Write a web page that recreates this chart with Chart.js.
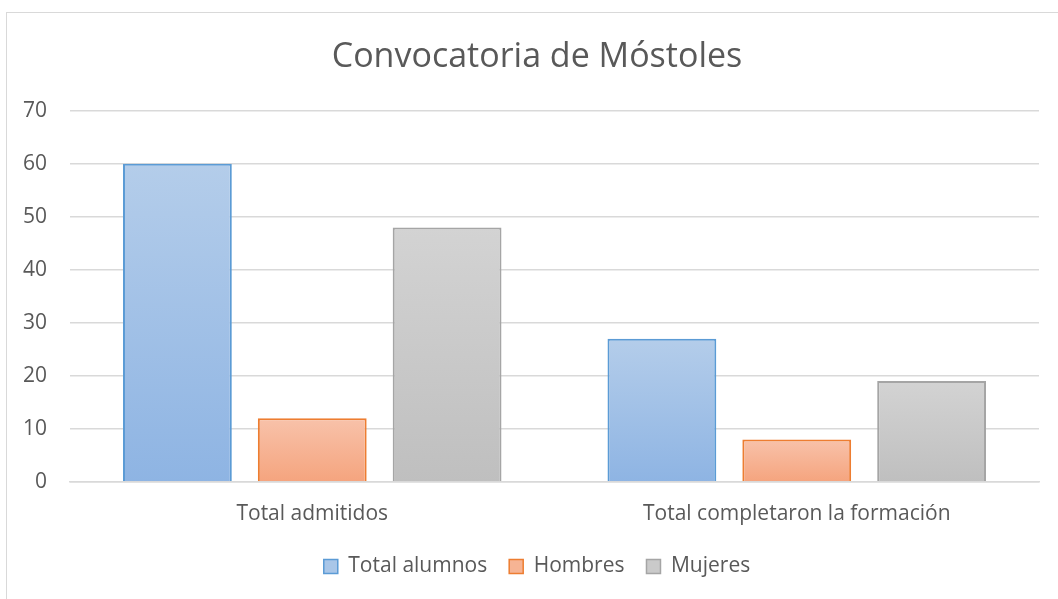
<!DOCTYPE html>
<html lang="es">
<head>
    <meta charset="UTF-8">
    <title>Convocatoria de Móstoles</title>
    <script src="https://cdn.jsdelivr.net/npm/chart.js"></script>
    <style>
        body { margin: 0; background: #ffffff; }
        #wrap { width: 1058px; height: 599px; position: relative; }
    </style>
</head>
<body>
<div id="wrap"><canvas id="chart" width="1058" height="599"></canvas></div>
<script>
    const categories = ['Total admitidos', 'Total completaron la formación'];
    const totalAlumnos = [60, 27];
    const hombres = [12, 8];
    const mujeres = [48, 19];
    const yTicks = [0, 10, 20, 30, 40, 50, 60, 70];

    const FONT = '"Open Sans", Lato, sans-serif';
    const TEXT = '#595959';

    // per-bar vertical gradient, light at the top
    function barGradient(top, bottom) {
        return function (c) {
            const chart = c.chart;
            const y = chart.scales && chart.scales.y;
            if (!y || c.raw === undefined) return bottom;
            const yTop = y.getPixelForValue(c.raw);
            const yBase = y.getPixelForValue(0);
            if (!isFinite(yTop) || yBase - yTop < 1) return bottom;
            const g = chart.ctx.createLinearGradient(0, yTop, 0, yBase);
            g.addColorStop(0, top);
            g.addColorStop(1, bottom);
            return g;
        };
    }

    const frame = {
        id: 'frame',
        beforeDraw(chart) {
            const ctx = chart.ctx;
            ctx.save();
            ctx.strokeStyle = '#d9d9d9';
            ctx.lineWidth = 1;
            ctx.strokeRect(6.5, 12.5, 1200, 800);
            ctx.restore();
        }
    };

    new Chart(document.getElementById('chart'), {
        type: 'bar',
        data: {
            labels: categories,
            datasets: [
                {
                    label: 'Total alumnos',
                    data: totalAlumnos,
                    backgroundColor: barGradient('#b4cdea', '#8eb4e3'),
                    borderColor: '#5b9bd5',
                    borderWidth: 2
                },
                {
                    label: 'Hombres',
                    data: hombres,
                    backgroundColor: barGradient('#f8c2aa', '#f5a47e'),
                    borderColor: '#ed7d31',
                    borderWidth: 2
                },
                {
                    label: 'Mujeres',
                    data: mujeres,
                    backgroundColor: barGradient('#d3d3d3', '#bfbfbf'),
                    borderColor: '#a5a5a5',
                    borderWidth: 2
                }
            ]
        },
        options: {
            responsive: false,
            animation: false,
            devicePixelRatio: 1,
            categoryPercentage: 0.835,
            barPercentage: 0.807,
            layout: { padding: { left: 35, right: 19, top: 37, bottom: 12 } },
            plugins: {
                title: {
                    display: true,
                    text: 'Convocatoria de Móstoles',
                    color: TEXT,
                    font: { family: FONT, size: 34, weight: 'normal' },
                    padding: { top: 0, bottom: 33 }
                },
                legend: {
                    position: 'bottom',
                    labels: {
                        color: TEXT,
                        font: { family: FONT, size: 21 },
                        boxWidth: 14,
                        boxHeight: 14,
                        padding: 22,
                        generateLabels(chart) {
                            const fills = ['#a9c6e8', '#f6b494', '#cacaca'];
                            return chart.data.datasets.map((ds, i) => ({
                                text: ds.label,
                                fillStyle: fills[i],
                                strokeStyle: ds.borderColor,
                                lineWidth: 1.5,
                                fontColor: TEXT,
                                datasetIndex: i
                            }));
                        }
                    }
                },
                tooltip: { enabled: false }
            },
            scales: {
                x: {
                    grid: { display: false },
                    border: { color: '#d9d9d9', width: 1.5 },
                    afterFit(axis) { axis.height -= 5; },
                    ticks: { color: TEXT, font: { family: FONT, size: 21 }, padding: 12 }
                },
                y: {
                    min: 0,
                    max: 70,
                    afterBuildTicks(axis) { axis.ticks = yTicks.map(v => ({ value: v })); },
                    afterFit(axis) {
                        axis.width = 35;
                        // labels sit left of the narrow axis box, don't clip them
                        axis._computeLabelArea = () => undefined;
                    },
                    grid: { color: '#d9d9d9', lineWidth: 1.5, drawTicks: false },
                    border: { display: false },
                    ticks: { color: TEXT, font: { family: FONT, size: 21 }, padding: 23 }
                }
            }
        },
        plugins: [frame]
    });
</script>
</body>
</html>
